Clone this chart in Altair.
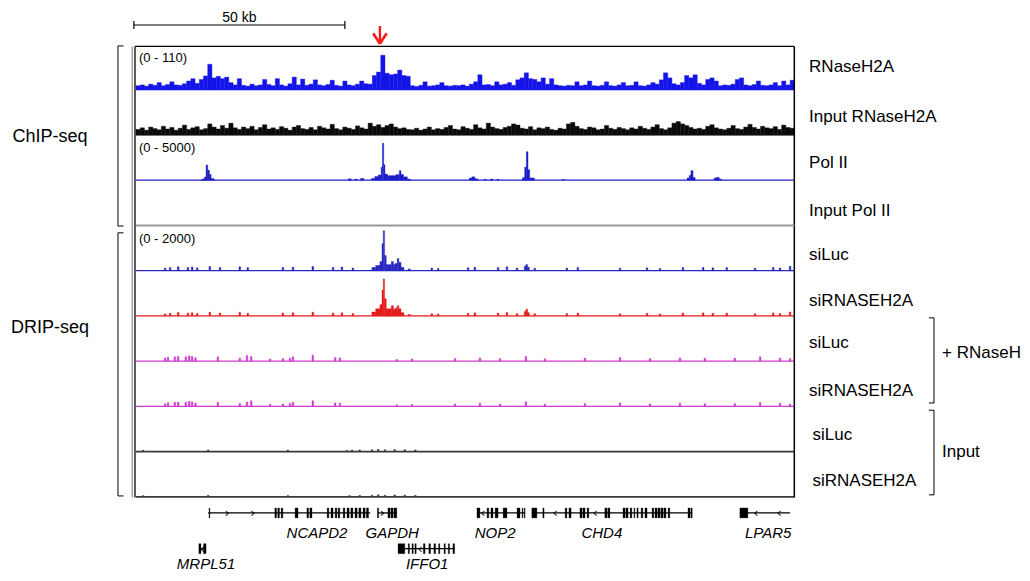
import altair as alt
import pandas as pd

# ---------------------------------------------------------------- data
REGION_KB = 156.0

TRACK_NAMES = ["RNaseH2A", "Input RNaseH2A", "Pol II", "Input Pol II",
               "siLuc", "siRNASEH2A", "siLuc", "siRNASEH2A", "siLuc", "siRNASEH2A"]
TRACK_MAX = [110, 110, 5000, 5000, 2000, 2000, 2000, 2000, 2000, 2000]
RANGE_TEXT = ["(0 - 110)", "", "(0 - 5000)", "", "(0 - 2000)", "", "", "", "", ""]
TRACK_COLOR = ["#1414e8", "#0a0a0a", "#1c1cc8", "#1c1cc8", "#2626c0",
               "#e41a1a", "#cf3ccf", "#cf3ccf", "#3a3a3a", "#3a3a3a"]

# dense coverage, 1 value per equal bin across the region
RNASEH2A = [10, 12, 9, 14, 11, 18, 10, 13, 20, 12, 11, 15, 22, 28, 16, 26, 35, 65, 30, 34,
            28, 32, 18, 12, 28, 11, 9, 14, 10, 12, 26, 13, 10, 28, 12, 9, 15, 32, 12, 27,
            11, 14, 25, 12, 10, 13, 24, 11, 9, 22, 12, 10, 14, 22, 15, 14, 36, 45, 88, 42,
            38, 40, 50, 36, 34, 10, 8, 11, 20, 9, 10, 12, 18, 10, 9, 11, 10, 12, 9, 14,
            20, 38, 12, 13, 10, 20, 12, 14, 18, 11, 25, 30, 43, 28, 26, 20, 30, 14, 28, 12,
            10, 9, 11, 10, 20, 10, 12, 22, 10, 9, 11, 20, 10, 9, 12, 18, 10, 11, 20, 10,
            9, 12, 18, 14, 25, 43, 30, 15, 12, 18, 36, 30, 38, 16, 12, 26, 30, 22, 10, 12,
            11, 14, 26, 30, 12, 10, 13, 22, 11, 10, 12, 18, 10, 22, 12, 24]
INPUT_RNASEH2A = [14, 18, 12, 20, 16, 13, 22, 15, 19, 12, 17, 25, 14, 18, 21, 13, 16, 28, 20, 15,
                  24, 17, 30, 18, 14, 20, 16, 22, 13, 19, 26, 15, 18, 14, 21, 17, 12, 20, 24, 16,
                  14, 19, 13, 22, 18, 15, 27, 16, 13, 20, 17, 14, 23, 18, 15, 30, 22, 26, 19, 24,
                  28, 20, 16, 18, 14, 13, 17, 12, 15, 20, 13, 16, 14, 19, 24, 15, 13, 21, 17, 14,
                  26, 18, 15, 30, 20, 16, 14, 19, 22, 28, 25, 17, 15, 21, 13, 18, 16, 20, 14, 12,
                  17, 15, 28, 32, 22, 16, 14, 20, 18, 13, 15, 24, 17, 14, 19, 16, 13, 18, 15, 22,
                  17, 14, 20, 26, 16, 13, 18, 30, 34, 28, 24, 19, 15, 17, 14, 22, 26, 18, 15, 13,
                  17, 24, 16, 14, 20, 27, 19, 15, 22, 18, 16, 21, 14, 25, 19, 17]

# sparse tracks: (start kb, end kb, value)
POL2 = [(15.6, 16.2, 120), (16.2, 16.6, 350), (16.6, 17.0, 1750), (17.0, 17.4, 1150),
        (17.4, 17.8, 650), (17.8, 18.5, 180),
        (50.3, 51.0, 150), (51.8, 52.4, 110), (53.2, 54.0, 200),
        (55.8, 56.6, 200), (56.6, 57.4, 420), (57.4, 58.1, 600), (58.1, 58.4, 1500),
        (58.4, 58.7, 4300), (58.7, 59.0, 1800), (59.0, 59.6, 700), (59.6, 61.6, 520),
        (61.6, 62.4, 640), (62.4, 62.8, 1100), (62.8, 63.4, 650), (63.4, 64.3, 380),
        (64.3, 65.0, 120),
        (79.0, 79.6, 250), (79.6, 80.3, 380), (80.3, 81.0, 150), (82.5, 83.0, 100),
        (84.0, 84.6, 130), (85.5, 86.0, 90),
        (91.6, 92.1, 300), (92.1, 92.5, 1500), (92.5, 92.9, 3300), (92.9, 93.3, 1200),
        (93.3, 94.4, 250), (101.0, 101.5, 70),
        (130.6, 131.1, 250), (131.1, 131.5, 550), (131.5, 132.0, 1100), (132.0, 132.5, 300),
        (137.0, 137.6, 250), (137.6, 138.2, 320), (138.2, 138.7, 120)]

SILUC = [(6.7, 7.1, 110), (7.9, 8.3, 140), (9.8, 10.2, 180), (12.1, 12.5, 150), (13.1, 13.5, 170),
         (14.3, 14.7, 130), (17.3, 17.7, 190), (19.7, 20.1, 150), (24.4, 24.8, 180),
         (26.3, 26.7, 140), (34.6, 35.0, 150), (37.0, 37.4, 160), (41.7, 42.1, 190),
         (46.5, 46.9, 150), (48.6, 49.0, 170), (51.2, 51.6, 120),
         (55.9, 56.8, 150), (56.8, 57.8, 240), (57.8, 58.3, 420), (58.3, 58.6, 1250),
         (58.6, 58.9, 1850), (58.9, 59.3, 700), (59.3, 60.5, 280), (60.5, 61.0, 420),
         (61.0, 61.4, 280), (61.4, 61.9, 330), (61.9, 62.3, 560), (62.3, 62.8, 380),
         (62.8, 63.5, 150), (64.5, 65.0, 80),
         (69.9, 70.3, 120), (71.4, 71.8, 100), (78.5, 78.9, 130), (80.1, 80.5, 160),
         (85.6, 86.0, 140), (87.7, 88.1, 180), (90.1, 90.5, 120), (92.0, 92.4, 200),
         (92.4, 92.8, 280), (92.8, 93.2, 160), (94.3, 94.7, 110), (101.9, 102.3, 120),
         (104.5, 104.9, 150), (114.5, 114.9, 110), (120.9, 121.3, 130), (124.0, 124.4, 100),
         (129.4, 129.8, 140), (134.2, 134.6, 150), (136.5, 136.9, 130), (139.8, 140.2, 140),
         (146.5, 146.9, 110), (150.8, 151.2, 150), (152.4, 152.8, 120), (154.8, 155.2, 200)]

SIRNASEH2A = [(6.7, 7.1, 90), (7.9, 8.3, 120), (9.8, 10.2, 160), (12.1, 12.5, 130), (13.1, 13.5, 150),
              (14.3, 14.7, 110), (17.3, 17.7, 170), (19.7, 20.1, 130), (24.4, 24.8, 170),
              (26.3, 26.7, 120), (34.6, 35.0, 130), (37.0, 37.4, 150), (41.7, 42.1, 170),
              (46.5, 46.9, 130), (48.6, 49.0, 150), (51.2, 51.6, 110),
              (55.9, 56.8, 180), (56.8, 57.8, 330), (57.8, 58.3, 520), (58.3, 58.6, 1200),
              (58.6, 58.9, 1720), (58.9, 59.3, 800), (59.3, 60.5, 330), (60.5, 61.0, 470),
              (61.0, 61.4, 300), (61.4, 61.9, 360), (61.9, 62.3, 470), (62.3, 62.8, 330),
              (62.8, 63.5, 150), (64.5, 65.0, 70),
              (69.9, 70.3, 100), (71.4, 71.8, 90), (78.5, 78.9, 120), (80.1, 80.5, 140),
              (85.6, 86.0, 130), (87.7, 88.1, 160), (90.1, 90.5, 110), (92.0, 92.4, 200),
              (92.4, 92.8, 310), (92.8, 93.2, 150), (94.3, 94.7, 100), (101.9, 102.3, 110),
              (104.5, 104.9, 130), (114.5, 114.9, 100), (120.9, 121.3, 120), (124.0, 124.4, 90),
              (129.4, 129.8, 130), (134.2, 134.6, 140), (136.5, 136.9, 120), (139.8, 140.2, 130),
              (146.5, 146.9, 100), (150.8, 151.2, 140), (152.4, 152.8, 110), (154.8, 155.2, 180)]

SILUC_RNASEH = [(6.7, 7.1, 140), (7.4, 7.8, 180), (9.0, 9.4, 200), (9.8, 10.2, 220), (11.6, 12.0, 200),
                (12.4, 12.8, 240), (13.1, 13.5, 220), (13.9, 14.3, 160), (19.2, 19.6, 200),
                (24.4, 24.8, 140), (26.1, 26.5, 260), (27.1, 27.5, 220), (31.6, 32.0, 100),
                (34.6, 35.0, 120), (36.3, 36.7, 130), (37.0, 37.4, 200), (41.7, 42.1, 280),
                (47.0, 47.4, 170), (48.1, 48.5, 150), (61.6, 62.0, 80), (65.2, 65.6, 100),
                (75.4, 75.8, 120), (81.3, 81.7, 150), (86.1, 86.5, 120), (92.2, 92.6, 220),
                (96.7, 97.1, 110), (106.2, 106.6, 140), (114.5, 114.9, 170), (121.6, 122.0, 120),
                (128.7, 129.1, 150), (134.6, 135.0, 130), (141.7, 142.1, 140), (147.7, 148.1, 200),
                (152.4, 152.8, 150), (154.8, 155.2, 120)]

SIRNASEH2A_RNASEH = [(6.7, 7.1, 120), (7.4, 7.8, 170), (9.0, 9.4, 190), (9.8, 10.2, 200), (11.6, 12.0, 190),
                     (12.4, 12.8, 230), (13.1, 13.5, 210), (13.9, 14.3, 150), (19.2, 19.6, 190),
                     (24.4, 24.8, 130), (26.1, 26.5, 200), (27.1, 27.5, 260), (31.6, 32.0, 100),
                     (34.6, 35.0, 110), (36.3, 36.7, 130), (37.0, 37.4, 190), (41.7, 42.1, 260),
                     (47.0, 47.4, 160), (48.1, 48.5, 150), (61.6, 62.0, 70), (65.2, 65.6, 90),
                     (75.4, 75.8, 110), (81.3, 81.7, 140), (86.1, 86.5, 110), (92.2, 92.6, 210),
                     (96.7, 97.1, 100), (106.2, 106.6, 130), (114.5, 114.9, 160), (121.6, 122.0, 110),
                     (128.7, 129.1, 140), (134.6, 135.0, 120), (141.7, 142.1, 130), (147.7, 148.1, 180),
                     (152.4, 152.8, 140), (154.8, 155.2, 110)]

SILUC_INPUT = [(1.5, 1.9, 70), (16.9, 17.3, 80), (35.8, 36.2, 70), (49.8, 50.2, 60), (51.0, 51.4, 70),
               (52.8, 53.2, 80), (55.7, 56.1, 90), (57.2, 57.6, 110), (58.8, 59.2, 90),
               (61.1, 61.5, 100), (63.5, 63.9, 90), (66.0, 66.4, 80)]
SIRNASEH2A_INPUT = [(1.5, 1.9, 60), (16.9, 17.3, 70), (35.8, 36.2, 60), (50.4, 50.8, 60),
                    (52.8, 53.2, 70), (55.7, 56.1, 80), (57.2, 57.6, 100), (58.8, 59.2, 80),
                    (61.1, 61.5, 90), (63.5, 63.9, 80), (66.0, 66.4, 70)]

# genes (row 0 = upper, row 1 = lower)
GENE_NAMES = ["NCAPD2", "GAPDH", "NOP2", "CHD4", "LPAR5", "MRPL51", "IFFO1"]
GENE_ROW = [0, 0, 0, 0, 0, 1, 1]
GENE_START = [17.1, 57.3, 80.8, 93.8, 143.1, 14.9, 62.1]
GENE_END = [55.5, 61.8, 92.2, 131.8, 155.0, 16.6, 75.6]
GENE_LABEL_KB = [42.9, 60.7, 85.1, 110.4, 149.8, 16.6, 69.0]
EXONS = {
    "NCAPD2": [(17.3, 17.5), (32.9, 33.3), (33.6, 34.0), (34.4, 34.8), (37.7, 38.4), (40.5, 40.9),
               (41.2, 41.7), (45.3, 45.7), (46.2, 46.7), (47.2, 47.6), (47.9, 48.3), (49.1, 49.5),
               (50.0, 50.5), (50.9, 51.4), (51.9, 52.4), (52.8, 53.3), (53.8, 54.3), (54.6, 55.1)],
    "GAPDH": [(57.2, 57.5), (59.7, 60.2), (60.4, 60.9), (61.1, 61.8)],
    "NOP2": [(80.8, 81.5), (83.2, 83.6), (84.1, 84.6), (85.1, 85.8), (87.0, 87.9), (90.3, 91.0),
             (91.5, 91.7), (92.0, 92.2)],
    "CHD4": [(93.8, 95.0), (96.4, 96.7), (101.7, 102.1), (102.6, 103.1), (105.2, 105.7), (105.9, 106.4),
             (106.9, 107.3), (111.1, 111.6), (111.8, 112.3), (115.4, 115.9), (116.1, 116.6),
             (117.1, 117.5), (118.0, 118.2), (118.7, 119.0), (119.7, 120.1), (120.6, 121.1),
             (122.3, 122.7), (123.0, 123.5), (123.7, 124.2), (124.4, 124.9), (125.1, 125.6),
             (126.1, 126.5), (130.8, 131.3), (131.5, 131.8)],
    "LPAR5": [(143.1, 145.0)],
    "MRPL51": [(14.9, 15.4), (16.0, 16.6)],
    "IFFO1": [(62.1, 63.7), (64.5, 64.8), (65.4, 65.7), (66.1, 66.4), (68.1, 68.5), (69.4, 69.8),
              (70.6, 71.0), (71.7, 72.0), (73.0, 73.3), (74.0, 74.3), (75.1, 75.5)],
}
STRAND_ARROWS = [(21.6, 0, "›"), (27.7, 0, "›"), (58.4, 0, "›"), (82.2, 0, "‹"), (99.3, 0, "‹"),
                 (108.8, 0, "‹"), (146.9, 0, "‹"), (152.4, 0, "‹"), (67.3, 1, "‹"), (15.7, 1, "‹")]

# ---------------------------------------------------------------- layout
W, H = 1014, 563                     # page area used by the view (page must not overflow)
PX_PER_KB = 4.22
PX_PER_TRACK = 45.25
X0 = -30.33                          # kb at left edge of view
Y0 = -0.8287                         # track units at top edge of view
X_DOMAIN = [X0, X0 + W / PX_PER_KB]
Y_DOMAIN = [Y0, Y0 + H / PX_PER_TRACK]
GENE_ROW_Y = [10.33, 11.12]
GENE_LABEL_BASELINE_Y = [10.88, 11.56]   # alphabetic baselines of gene names
LABEL_DY = [0.47, 0.58, 0.6, 0.65, 0.63, 0.65, 0.57, 0.64, 0.61, 0.63]
LABEL_DX = [3.5, 3.5, 3.5, 3.5, 3.5, 3.5, 3.5, 3.5, 4.3, 4.3]


def base(i):
    return i + 0.975


def top(i, v):
    return base(i) - v / TRACK_MAX[i] * 0.95


sig = []
for i, vals in [(0, RNASEH2A), (1, INPUT_RNASEH2A)]:
    w = REGION_KB / len(vals)
    for k, v in enumerate(vals):
        sig.append(dict(x=k * w, x2=(k + 1) * w, y=top(i, v), y2=base(i), c=TRACK_COLOR[i]))
for i, peaks in [(2, POL2), (4, SILUC), (5, SIRNASEH2A), (6, SILUC_RNASEH),
                 (7, SIRNASEH2A_RNASEH), (8, SILUC_INPUT), (9, SIRNASEH2A_INPUT)]:
    for s, e, v in peaks:
        sig.append(dict(x=s, x2=e, y=top(i, v), y2=base(i), c=TRACK_COLOR[i]))
sig = pd.DataFrame(sig)

xs = alt.Scale(domain=X_DOMAIN, nice=False, zero=False)
ys = alt.Scale(domain=Y_DOMAIN, nice=False, zero=False, reverse=True)
X = lambda f: alt.X(f, type="quantitative", scale=xs, axis=None)
Y = lambda f: alt.Y(f, type="quantitative", scale=ys, axis=None)

signal = alt.Chart(sig).mark_rect(strokeWidth=0.4).encode(
    x=X("x"), x2="x2", y=Y("y"), y2="y2",
    color=alt.Color("c:N", scale=None), stroke=alt.Stroke("c:N", scale=None))

bl = pd.DataFrame([dict(x=0, x2=REGION_KB, y=base(i), c=TRACK_COLOR[i],
                        w=1.6 if i >= 8 else 1.2) for i in [0, 1, 2, 4, 5, 6, 7, 8, 9]])
baselines = alt.Chart(bl).mark_rule().encode(
    x=X("x"), x2="x2", y=Y("y"), color=alt.Color("c:N", scale=None),
    strokeWidth=alt.StrokeWidth("w:Q", scale=None))

fr = pd.DataFrame([
    dict(x=-0.24, x2=REGION_KB, y=0.02, y2=0.02, c="#000000", w=1.3),
    dict(x=REGION_KB, x2=REGION_KB, y=0.02, y2=9.99, c="#000000", w=1.5),
    dict(x=-0.24, x2=-0.24, y=0.02, y2=9.99, c="#000000", w=1.3),
    dict(x=-0.9, x2=-0.9, y=0.02, y2=9.99, c="#555555", w=0.8),
    dict(x=0, x2=REGION_KB, y=3.98, y2=3.98, c="#9a9a9a", w=2.0),
    # left brackets
    dict(x=-4.27, x2=-4.27, y=0.01, y2=3.99, c="#000000", w=1.0),
    dict(x=-4.27, x2=-2.96, y=0.01, y2=0.01, c="#000000", w=1.0),
    dict(x=-4.27, x2=-2.96, y=3.99, y2=3.99, c="#000000", w=1.0),
    dict(x=-4.27, x2=-4.27, y=4.14, y2=9.955, c="#000000", w=1.0),
    dict(x=-4.27, x2=-2.96, y=4.14, y2=4.14, c="#000000", w=1.0),
    dict(x=-4.27, x2=-2.96, y=9.955, y2=9.955, c="#000000", w=1.0),
    # right brackets
    dict(x=189.1, x2=189.1, y=6.02, y2=7.90, c="#000000", w=1.0),
    dict(x=187.9, x2=189.1, y=6.02, y2=6.02, c="#000000", w=1.0),
    dict(x=187.9, x2=189.1, y=7.90, y2=7.90, c="#000000", w=1.0),
    dict(x=189.1, x2=189.1, y=8.06, y2=9.93, c="#000000", w=1.0),
    dict(x=187.9, x2=189.1, y=8.06, y2=8.06, c="#000000", w=1.0),
    dict(x=187.9, x2=189.1, y=9.93, y2=9.93, c="#000000", w=1.0),
    # scale bar
    dict(x=-0.5, x2=49.5, y=-0.453, y2=-0.453, c="#000000", w=1.2),
    dict(x=-0.5, x2=-0.5, y=-0.54, y2=-0.365, c="#000000", w=1.2),
    dict(x=49.5, x2=49.5, y=-0.54, y2=-0.365, c="#000000", w=1.2),
    # red arrow
    dict(x=57.8, x2=57.8, y=-0.43, y2=-0.05, c="#ff1a1a", w=2.4),
    dict(x=56.2, x2=57.8, y=-0.27, y2=-0.04, c="#ff1a1a", w=2.6),
    dict(x=59.4, x2=57.8, y=-0.27, y2=-0.04, c="#ff1a1a", w=2.6),
])
frames = alt.Chart(fr).mark_rule().encode(
    x=X("x"), x2="x2", y=Y("y"), y2="y2", color=alt.Color("c:N", scale=None),
    strokeWidth=alt.StrokeWidth("w:Q", scale=None))

gl = pd.DataFrame([dict(x=s, x2=e, y=GENE_ROW_Y[r]) for s, e, r in zip(GENE_START, GENE_END, GENE_ROW)])
gene_lines = alt.Chart(gl).mark_rule(color="#000000", strokeWidth=1.3).encode(
    x=X("x"), x2="x2", y=Y("y"))
ex = []
for name, r in zip(GENE_NAMES, GENE_ROW):
    for s, e in EXONS[name]:
        ex.append(dict(x=s, x2=e, y=GENE_ROW_Y[r] - 0.11, y2=GENE_ROW_Y[r] + 0.11))
exons = alt.Chart(pd.DataFrame(ex)).mark_rect(color="#000000", stroke="#000000", strokeWidth=0.3).encode(
    x=X("x"), x2="x2", y=Y("y"), y2="y2")
ar = pd.DataFrame([dict(x=k, y=GENE_ROW_Y[r], t=t) for k, r, t in STRAND_ARROWS])
arrows = alt.Chart(ar).mark_text(fontSize=13, font="DejaVu Sans", baseline="middle", align="center",
                                 color="#000000").encode(x=X("x"), y=Y("y"), text="t:N")
glab = pd.DataFrame([dict(x=k, y=GENE_LABEL_BASELINE_Y[r], t=n)
                     for n, r, k in zip(GENE_NAMES, GENE_ROW, GENE_LABEL_KB)])
gene_labels = alt.Chart(glab).mark_text(fontSize=15, font="Liberation Sans", fontStyle="italic",
                                        baseline="alphabetic", align="center", color="#000000").encode(
    x=X("x"), y=Y("y"), text="t:N")

FONT = "Liberation Sans"
rl = pd.DataFrame([dict(x=REGION_KB + LABEL_DX[i], y=i + LABEL_DY[i], t=n) for i, n in enumerate(TRACK_NAMES)])
right_labels = alt.Chart(rl).mark_text(fontSize=17, font=FONT, align="left", baseline="middle",
                                       color="#000000").encode(x=X("x"), y=Y("y"), text="t:N")
rg = pd.DataFrame([dict(x=0.7, y=i + 0.14, t=t) for i, t in enumerate(RANGE_TEXT) if t])
range_labels = alt.Chart(rg).mark_text(fontSize=13, font=FONT, align="left", baseline="top",
                                       color="#000000").encode(x=X("x"), y=Y("y"), text="t:N")
grp = pd.DataFrame([dict(x=-20.4, y=2.02, t="ChIP-seq"), dict(x=-20.4, y=6.24, t="DRIP-seq")])
group_labels = alt.Chart(grp).mark_text(fontSize=18, font=FONT, align="center", baseline="middle",
                                        color="#000000").encode(x=X("x"), y=Y("y"), text="t:N")
br = pd.DataFrame([dict(x=191.0, y=6.8, t="+ RNaseH"), dict(x=191.0, y=8.98, t="Input")])
bracket_labels = alt.Chart(br).mark_text(fontSize=17, font=FONT, align="left", baseline="middle",
                                         color="#000000").encode(x=X("x"), y=Y("y"), text="t:N")
sb = pd.DataFrame([dict(x=24.5, y=-0.52, t="50 kb")])
scale_label = alt.Chart(sb).mark_text(fontSize=14, font=FONT, align="center", baseline="alphabetic",
                                      color="#000000").encode(x=X("x"), y=Y("y"), text="t:N")

chart = alt.layer(
    signal, baselines, frames, gene_lines, exons, arrows, gene_labels,
    right_labels, range_labels, group_labels, bracket_labels, scale_label
).properties(
    width=W, height=H,
    autosize=alt.AutoSizeParams(type="none"),
    padding=0,
).configure_view(stroke=None)

chart.save("out.html", embed_options={"renderer": "svg", "actions": False})
